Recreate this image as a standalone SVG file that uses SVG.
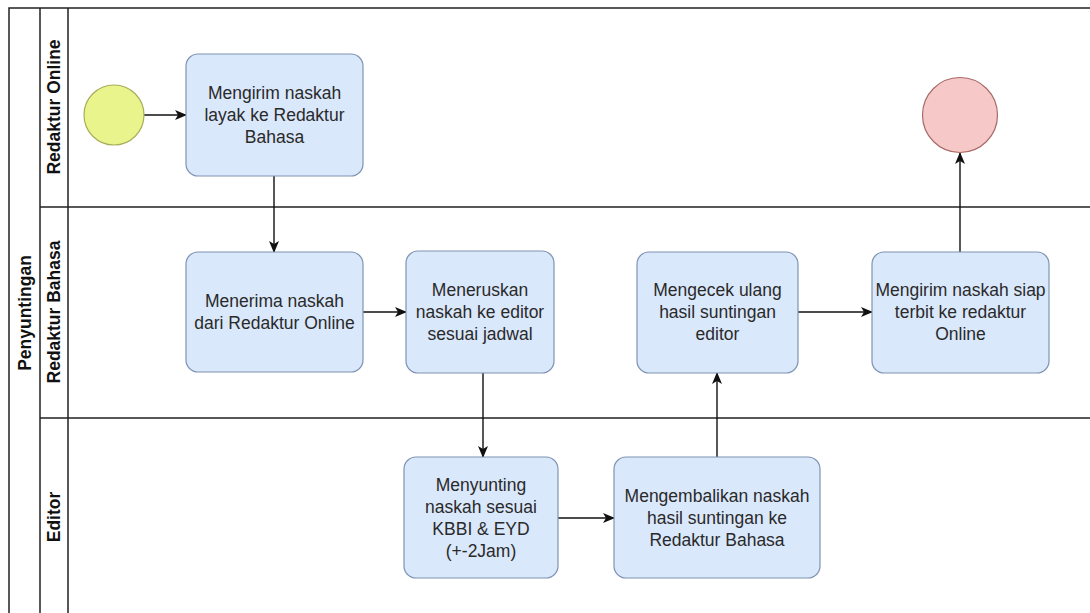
<svg xmlns="http://www.w3.org/2000/svg" width="1090" height="613" viewBox="0 0 1090 613">
<style>
.lane{fill:none;stroke:#222;stroke-width:1.5}
.task{fill:#dae8fc;stroke:#7f93b2;stroke-width:1.2}
.t{font-family:"Liberation Sans",Arial,sans-serif;font-size:17.5px;fill:#2a2a2a;text-anchor:middle;dominant-baseline:central}
.h{font-family:"Liberation Sans",Arial,sans-serif;font-size:17.5px;font-weight:bold;fill:#111;text-anchor:middle;dominant-baseline:central}
.c{fill:none;stroke:#111;stroke-width:1.4}
</style>
<defs>
<marker id="arr" viewBox="0 0 12 10" refX="11" refY="5" markerWidth="12" markerHeight="10" markerUnits="userSpaceOnUse" orient="auto">
<path d="M0,0 L12,5 L0,10 L3,5 Z" fill="#111"/>
</marker>
</defs>
<rect width="1090" height="613" fill="#fff"/>
<g id="pool">
<path class="lane" d="M1090,8 H9 V613 M40,8 V613 M68,8 V613 M40,207 H1090 M40,418 H1090"/>
<text class="h" transform="translate(25,313) rotate(-90)">Penyuntingan</text>
</g>
<g id="lane-online"><text class="h" transform="translate(54,107) rotate(-90)">Redaktur Online</text></g>
<g id="lane-bahasa"><text class="h" transform="translate(54,312) rotate(-90)">Redaktur Bahasa</text></g>
<g id="lane-editor"><text class="h" transform="translate(54,517) rotate(-90)">Editor</text></g>

<g id="connectors">
<path class="c" marker-end="url(#arr)" d="M144,115 H186"/>
<path class="c" marker-end="url(#arr)" d="M274,176 V252"/>
<path class="c" marker-end="url(#arr)" d="M363,312 H406"/>
<path class="c" marker-end="url(#arr)" d="M483,373 V457"/>
<path class="c" marker-end="url(#arr)" d="M558,518 H614"/>
<path class="c" marker-end="url(#arr)" d="M717,457 V373"/>
<path class="c" marker-end="url(#arr)" d="M798,312 H872"/>
<path class="c" marker-end="url(#arr)" d="M960,252 V153"/>
</g>

<g id="start"><circle cx="114" cy="115" r="30" fill="#e9f58c" stroke="#a8ad5a" stroke-width="1.2"/></g>
<g id="end"><circle cx="960" cy="115" r="37.5" fill="#f6c9c8" stroke="#a86a68" stroke-width="1.2"/></g>

<g id="n1"><rect class="task" x="186" y="54" width="177" height="122" rx="12"/>
<text class="t" x="274.5" y="93">Mengirim naskah</text><text class="t" x="274.5" y="115">layak ke Redaktur</text><text class="t" x="274.5" y="137">Bahasa</text></g>
<g id="n2"><rect class="task" x="186" y="252" width="177" height="120" rx="12"/>
<text class="t" x="274.5" y="301">Menerima naskah</text><text class="t" x="274.5" y="323">dari Redaktur Online</text></g>
<g id="n3"><rect class="task" x="406" y="251" width="148" height="122" rx="12"/>
<text class="t" x="480" y="290">Meneruskan</text><text class="t" x="480" y="312">naskah ke editor</text><text class="t" x="480" y="334">sesuai jadwal</text></g>
<g id="n4"><rect class="task" x="637" y="252" width="161" height="121" rx="12"/>
<text class="t" x="717.5" y="290">Mengecek ulang</text><text class="t" x="717.5" y="312">hasil suntingan</text><text class="t" x="717.5" y="334">editor</text></g>
<g id="n5"><rect class="task" x="872" y="252" width="177" height="121" rx="12"/>
<text class="t" x="960.5" y="290">Mengirim naskah siap</text><text class="t" x="960.5" y="312">terbit ke redaktur</text><text class="t" x="960.5" y="334">Online</text></g>
<g id="n6"><rect class="task" x="404" y="457" width="154" height="121" rx="12"/>
<text class="t" x="481" y="485">Menyunting</text><text class="t" x="481" y="507">naskah sesuai</text><text class="t" x="481" y="529">KBBI &amp; EYD</text><text class="t" x="481" y="551">(+-2Jam)</text></g>
<g id="n7"><rect class="task" x="614" y="457" width="206" height="121" rx="12"/>
<text class="t" x="717" y="496">Mengembalikan naskah</text><text class="t" x="717" y="518">hasil suntingan ke</text><text class="t" x="717" y="540">Redaktur Bahasa</text></g>
</svg>
